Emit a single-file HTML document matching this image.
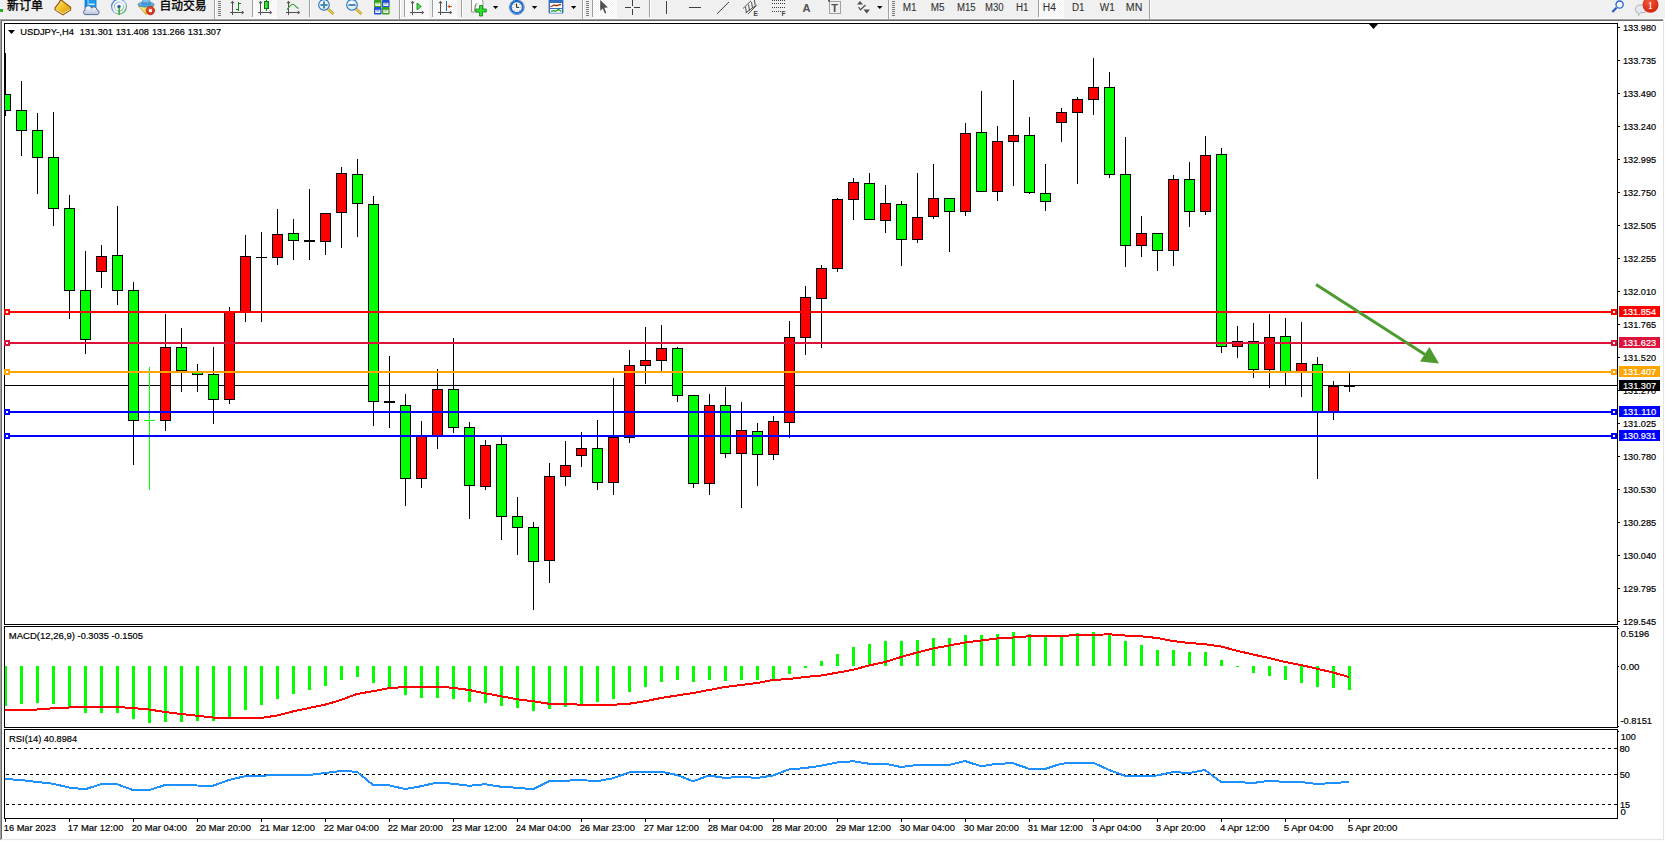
<!DOCTYPE html><html><head><meta charset="utf-8"><title>USDJPY-,H4</title><style>
html,body{margin:0;padding:0;background:#f0f0f0;width:1665px;height:841px;overflow:hidden}
svg{display:block}
.tx text{font-family:"Liberation Sans", "Noto Sans CJK SC", sans-serif;font-size:9.8px}
.tb{font-family:"Liberation Sans", "Noto Sans CJK SC", sans-serif;font-size:10px;fill:#1e1e1e}
.cj{font-family:"Liberation Sans","Noto Sans CJK SC","WenQuanYi Zen Hei",sans-serif;font-size:12px;fill:#000}
.w{fill:#fff}
</style></head><body>
<svg width="1665" height="841" viewBox="0 0 1665 841">
<rect x="0" y="0" width="1665" height="841" fill="#f0f0f0"/>
<g shape-rendering="crispEdges">
<rect x="0" y="18" width="1665" height="1" fill="#f8f8f8"/>
<rect x="0" y="19" width="1664" height="1" fill="#a0a0a0"/>
<rect x="0" y="19" width="1" height="821" fill="#a0a0a0"/>
<rect x="1" y="20" width="1662" height="1" fill="#696969"/>
<rect x="1" y="20" width="1" height="819" fill="#696969"/>
<rect x="2" y="21" width="1661" height="818" fill="#fff"/>
<rect x="1663" y="19" width="1" height="821" fill="#e3e3e3"/>
<rect x="1" y="839" width="1663" height="1" fill="#e3e3e3"/>
<rect x="1664" y="18" width="1" height="823" fill="#fdfdfd"/>
<rect x="0" y="840" width="1665" height="1" fill="#fdfdfd"/>
</g>
<g shape-rendering="crispEdges" fill="none" stroke="#000" stroke-width="1">
<rect x="4.5" y="23.5" width="1613" height="601"/>
<rect x="4.5" y="626.5" width="1613" height="101"/>
<rect x="4.5" y="729.5" width="1613" height="89"/>
</g>
<defs><clipPath id="cm"><rect x="5" y="24" width="1612" height="600"/></clipPath><clipPath id="cd"><rect x="5" y="627" width="1612" height="100"/></clipPath><clipPath id="cr"><rect x="5" y="730" width="1612" height="88"/></clipPath></defs>
<rect x="5" y="385" width="1612" height="1" fill="#000" shape-rendering="crispEdges"/>
<g shape-rendering="crispEdges" clip-path="url(#cm)">
<rect x="5" y="53" width="1" height="63" fill="#000"/>
<rect x="0" y="94" width="11" height="17" fill="#000"/>
<rect x="1" y="95" width="9" height="15" fill="#00ff00"/>
<rect x="21" y="81" width="1" height="75" fill="#000"/>
<rect x="16" y="110" width="11" height="21" fill="#000"/>
<rect x="17" y="111" width="9" height="19" fill="#00ff00"/>
<rect x="37" y="113" width="1" height="81" fill="#000"/>
<rect x="32" y="130" width="11" height="28" fill="#000"/>
<rect x="33" y="131" width="9" height="26" fill="#00ff00"/>
<rect x="53" y="112" width="1" height="114" fill="#000"/>
<rect x="48" y="157" width="11" height="52" fill="#000"/>
<rect x="49" y="158" width="9" height="50" fill="#00ff00"/>
<rect x="69" y="195" width="1" height="124" fill="#000"/>
<rect x="64" y="208" width="11" height="83" fill="#000"/>
<rect x="65" y="209" width="9" height="81" fill="#00ff00"/>
<rect x="85" y="251" width="1" height="103" fill="#000"/>
<rect x="80" y="290" width="11" height="50" fill="#000"/>
<rect x="81" y="291" width="9" height="48" fill="#00ff00"/>
<rect x="101" y="245" width="1" height="43" fill="#000"/>
<rect x="96" y="256" width="11" height="16" fill="#000"/>
<rect x="97" y="257" width="9" height="14" fill="#ff0000"/>
<rect x="117" y="206" width="1" height="99" fill="#000"/>
<rect x="112" y="255" width="11" height="36" fill="#000"/>
<rect x="113" y="256" width="9" height="34" fill="#00ff00"/>
<rect x="133" y="282" width="1" height="183" fill="#000"/>
<rect x="128" y="290" width="11" height="131" fill="#000"/>
<rect x="129" y="291" width="9" height="129" fill="#00ff00"/>
<rect x="149" y="367" width="1" height="123" fill="#00ff00"/>
<rect x="144" y="420" width="11" height="1" fill="#00ff00"/>
<rect x="165" y="314" width="1" height="117" fill="#000"/>
<rect x="160" y="347" width="11" height="74" fill="#000"/>
<rect x="161" y="348" width="9" height="72" fill="#ff0000"/>
<rect x="181" y="328" width="1" height="64" fill="#000"/>
<rect x="176" y="347" width="11" height="24" fill="#000"/>
<rect x="177" y="348" width="9" height="22" fill="#00ff00"/>
<rect x="197" y="364" width="1" height="28" fill="#000"/>
<rect x="192" y="372" width="11" height="3" fill="#000"/>
<rect x="193" y="373" width="9" height="1" fill="#00ff00"/>
<rect x="213" y="347" width="1" height="77" fill="#000"/>
<rect x="208" y="374" width="11" height="26" fill="#000"/>
<rect x="209" y="375" width="9" height="24" fill="#00ff00"/>
<rect x="229" y="307" width="1" height="97" fill="#000"/>
<rect x="224" y="312" width="11" height="88" fill="#000"/>
<rect x="225" y="313" width="9" height="86" fill="#ff0000"/>
<rect x="245" y="235" width="1" height="87" fill="#000"/>
<rect x="240" y="256" width="11" height="56" fill="#000"/>
<rect x="241" y="257" width="9" height="54" fill="#ff0000"/>
<rect x="261" y="232" width="1" height="90" fill="#000"/>
<rect x="256" y="257" width="11" height="1" fill="#000"/>
<rect x="277" y="209" width="1" height="56" fill="#000"/>
<rect x="272" y="234" width="11" height="24" fill="#000"/>
<rect x="273" y="235" width="9" height="22" fill="#ff0000"/>
<rect x="293" y="219" width="1" height="41" fill="#000"/>
<rect x="288" y="233" width="11" height="8" fill="#000"/>
<rect x="289" y="234" width="9" height="6" fill="#00ff00"/>
<rect x="309" y="189" width="1" height="71" fill="#000"/>
<rect x="304" y="240" width="11" height="2" fill="#000"/>
<rect x="325" y="213" width="1" height="42" fill="#000"/>
<rect x="320" y="213" width="11" height="29" fill="#000"/>
<rect x="321" y="214" width="9" height="27" fill="#ff0000"/>
<rect x="341" y="167" width="1" height="81" fill="#000"/>
<rect x="336" y="173" width="11" height="40" fill="#000"/>
<rect x="337" y="174" width="9" height="38" fill="#ff0000"/>
<rect x="357" y="159" width="1" height="78" fill="#000"/>
<rect x="352" y="174" width="11" height="30" fill="#000"/>
<rect x="353" y="175" width="9" height="28" fill="#00ff00"/>
<rect x="373" y="196" width="1" height="230" fill="#000"/>
<rect x="368" y="204" width="11" height="198" fill="#000"/>
<rect x="369" y="205" width="9" height="196" fill="#00ff00"/>
<rect x="389" y="356" width="1" height="72" fill="#000"/>
<rect x="384" y="401" width="11" height="2" fill="#000"/>
<rect x="405" y="394" width="1" height="112" fill="#000"/>
<rect x="400" y="405" width="11" height="74" fill="#000"/>
<rect x="401" y="406" width="9" height="72" fill="#00ff00"/>
<rect x="421" y="421" width="1" height="67" fill="#000"/>
<rect x="416" y="436" width="11" height="43" fill="#000"/>
<rect x="417" y="437" width="9" height="41" fill="#ff0000"/>
<rect x="437" y="369" width="1" height="80" fill="#000"/>
<rect x="432" y="389" width="11" height="47" fill="#000"/>
<rect x="433" y="390" width="9" height="45" fill="#ff0000"/>
<rect x="453" y="338" width="1" height="95" fill="#000"/>
<rect x="448" y="389" width="11" height="39" fill="#000"/>
<rect x="449" y="390" width="9" height="37" fill="#00ff00"/>
<rect x="469" y="422" width="1" height="97" fill="#000"/>
<rect x="464" y="427" width="11" height="59" fill="#000"/>
<rect x="465" y="428" width="9" height="57" fill="#00ff00"/>
<rect x="485" y="440" width="1" height="50" fill="#000"/>
<rect x="480" y="445" width="11" height="42" fill="#000"/>
<rect x="481" y="446" width="9" height="40" fill="#ff0000"/>
<rect x="501" y="437" width="1" height="103" fill="#000"/>
<rect x="496" y="444" width="11" height="73" fill="#000"/>
<rect x="497" y="445" width="9" height="71" fill="#00ff00"/>
<rect x="517" y="497" width="1" height="58" fill="#000"/>
<rect x="512" y="516" width="11" height="12" fill="#000"/>
<rect x="513" y="517" width="9" height="10" fill="#00ff00"/>
<rect x="533" y="522" width="1" height="88" fill="#000"/>
<rect x="528" y="527" width="11" height="35" fill="#000"/>
<rect x="529" y="528" width="9" height="33" fill="#00ff00"/>
<rect x="549" y="463" width="1" height="120" fill="#000"/>
<rect x="544" y="476" width="11" height="85" fill="#000"/>
<rect x="545" y="477" width="9" height="83" fill="#ff0000"/>
<rect x="565" y="441" width="1" height="45" fill="#000"/>
<rect x="560" y="465" width="11" height="12" fill="#000"/>
<rect x="561" y="466" width="9" height="10" fill="#ff0000"/>
<rect x="581" y="432" width="1" height="35" fill="#000"/>
<rect x="576" y="448" width="11" height="8" fill="#000"/>
<rect x="577" y="449" width="9" height="6" fill="#ff0000"/>
<rect x="597" y="420" width="1" height="70" fill="#000"/>
<rect x="592" y="448" width="11" height="35" fill="#000"/>
<rect x="593" y="449" width="9" height="33" fill="#00ff00"/>
<rect x="613" y="378" width="1" height="117" fill="#000"/>
<rect x="608" y="437" width="11" height="46" fill="#000"/>
<rect x="609" y="438" width="9" height="44" fill="#ff0000"/>
<rect x="629" y="350" width="1" height="93" fill="#000"/>
<rect x="624" y="365" width="11" height="73" fill="#000"/>
<rect x="625" y="366" width="9" height="71" fill="#ff0000"/>
<rect x="645" y="327" width="1" height="57" fill="#000"/>
<rect x="640" y="360" width="11" height="6" fill="#000"/>
<rect x="641" y="361" width="9" height="4" fill="#ff0000"/>
<rect x="661" y="325" width="1" height="46" fill="#000"/>
<rect x="656" y="348" width="11" height="13" fill="#000"/>
<rect x="657" y="349" width="9" height="11" fill="#ff0000"/>
<rect x="677" y="347" width="1" height="55" fill="#000"/>
<rect x="672" y="348" width="11" height="48" fill="#000"/>
<rect x="673" y="349" width="9" height="46" fill="#00ff00"/>
<rect x="693" y="395" width="1" height="93" fill="#000"/>
<rect x="688" y="395" width="11" height="89" fill="#000"/>
<rect x="689" y="396" width="9" height="87" fill="#00ff00"/>
<rect x="709" y="394" width="1" height="101" fill="#000"/>
<rect x="704" y="405" width="11" height="79" fill="#000"/>
<rect x="705" y="406" width="9" height="77" fill="#ff0000"/>
<rect x="725" y="387" width="1" height="71" fill="#000"/>
<rect x="720" y="405" width="11" height="49" fill="#000"/>
<rect x="721" y="406" width="9" height="47" fill="#00ff00"/>
<rect x="741" y="402" width="1" height="106" fill="#000"/>
<rect x="736" y="430" width="11" height="24" fill="#000"/>
<rect x="737" y="431" width="9" height="22" fill="#ff0000"/>
<rect x="757" y="423" width="1" height="63" fill="#000"/>
<rect x="752" y="431" width="11" height="24" fill="#000"/>
<rect x="753" y="432" width="9" height="22" fill="#00ff00"/>
<rect x="773" y="416" width="1" height="44" fill="#000"/>
<rect x="768" y="421" width="11" height="34" fill="#000"/>
<rect x="769" y="422" width="9" height="32" fill="#ff0000"/>
<rect x="789" y="321" width="1" height="117" fill="#000"/>
<rect x="784" y="337" width="11" height="86" fill="#000"/>
<rect x="785" y="338" width="9" height="84" fill="#ff0000"/>
<rect x="805" y="286" width="1" height="69" fill="#000"/>
<rect x="800" y="297" width="11" height="41" fill="#000"/>
<rect x="801" y="298" width="9" height="39" fill="#ff0000"/>
<rect x="821" y="265" width="1" height="83" fill="#000"/>
<rect x="816" y="268" width="11" height="31" fill="#000"/>
<rect x="817" y="269" width="9" height="29" fill="#ff0000"/>
<rect x="837" y="198" width="1" height="74" fill="#000"/>
<rect x="832" y="199" width="11" height="70" fill="#000"/>
<rect x="833" y="200" width="9" height="68" fill="#ff0000"/>
<rect x="853" y="178" width="1" height="42" fill="#000"/>
<rect x="848" y="182" width="11" height="18" fill="#000"/>
<rect x="849" y="183" width="9" height="16" fill="#ff0000"/>
<rect x="869" y="173" width="1" height="47" fill="#000"/>
<rect x="864" y="183" width="11" height="37" fill="#000"/>
<rect x="865" y="184" width="9" height="35" fill="#00ff00"/>
<rect x="885" y="185" width="1" height="48" fill="#000"/>
<rect x="880" y="203" width="11" height="18" fill="#000"/>
<rect x="881" y="204" width="9" height="16" fill="#ff0000"/>
<rect x="901" y="201" width="1" height="65" fill="#000"/>
<rect x="896" y="204" width="11" height="36" fill="#000"/>
<rect x="897" y="205" width="9" height="34" fill="#00ff00"/>
<rect x="917" y="173" width="1" height="70" fill="#000"/>
<rect x="912" y="217" width="11" height="23" fill="#000"/>
<rect x="913" y="218" width="9" height="21" fill="#ff0000"/>
<rect x="933" y="164" width="1" height="55" fill="#000"/>
<rect x="928" y="198" width="11" height="19" fill="#000"/>
<rect x="929" y="199" width="9" height="17" fill="#ff0000"/>
<rect x="949" y="199" width="1" height="53" fill="#000"/>
<rect x="944" y="198" width="11" height="14" fill="#000"/>
<rect x="945" y="199" width="9" height="12" fill="#00ff00"/>
<rect x="965" y="123" width="1" height="93" fill="#000"/>
<rect x="960" y="133" width="11" height="79" fill="#000"/>
<rect x="961" y="134" width="9" height="77" fill="#ff0000"/>
<rect x="981" y="91" width="1" height="101" fill="#000"/>
<rect x="976" y="132" width="11" height="60" fill="#000"/>
<rect x="977" y="133" width="9" height="58" fill="#00ff00"/>
<rect x="997" y="126" width="1" height="75" fill="#000"/>
<rect x="992" y="141" width="11" height="51" fill="#000"/>
<rect x="993" y="142" width="9" height="49" fill="#ff0000"/>
<rect x="1013" y="80" width="1" height="106" fill="#000"/>
<rect x="1008" y="135" width="11" height="7" fill="#000"/>
<rect x="1009" y="136" width="9" height="5" fill="#ff0000"/>
<rect x="1029" y="117" width="1" height="77" fill="#000"/>
<rect x="1024" y="135" width="11" height="58" fill="#000"/>
<rect x="1025" y="136" width="9" height="56" fill="#00ff00"/>
<rect x="1045" y="164" width="1" height="47" fill="#000"/>
<rect x="1040" y="193" width="11" height="9" fill="#000"/>
<rect x="1041" y="194" width="9" height="7" fill="#00ff00"/>
<rect x="1061" y="108" width="1" height="34" fill="#000"/>
<rect x="1056" y="112" width="11" height="11" fill="#000"/>
<rect x="1057" y="113" width="9" height="9" fill="#ff0000"/>
<rect x="1077" y="97" width="1" height="87" fill="#000"/>
<rect x="1072" y="99" width="11" height="14" fill="#000"/>
<rect x="1073" y="100" width="9" height="12" fill="#ff0000"/>
<rect x="1093" y="58" width="1" height="57" fill="#000"/>
<rect x="1088" y="87" width="11" height="13" fill="#000"/>
<rect x="1089" y="88" width="9" height="11" fill="#ff0000"/>
<rect x="1109" y="72" width="1" height="106" fill="#000"/>
<rect x="1104" y="87" width="11" height="88" fill="#000"/>
<rect x="1105" y="88" width="9" height="86" fill="#00ff00"/>
<rect x="1125" y="137" width="1" height="130" fill="#000"/>
<rect x="1120" y="174" width="11" height="72" fill="#000"/>
<rect x="1121" y="175" width="9" height="70" fill="#00ff00"/>
<rect x="1141" y="216" width="1" height="41" fill="#000"/>
<rect x="1136" y="233" width="11" height="13" fill="#000"/>
<rect x="1137" y="234" width="9" height="11" fill="#ff0000"/>
<rect x="1157" y="233" width="1" height="38" fill="#000"/>
<rect x="1152" y="233" width="11" height="18" fill="#000"/>
<rect x="1153" y="234" width="9" height="16" fill="#00ff00"/>
<rect x="1173" y="175" width="1" height="91" fill="#000"/>
<rect x="1168" y="179" width="11" height="72" fill="#000"/>
<rect x="1169" y="180" width="9" height="70" fill="#ff0000"/>
<rect x="1189" y="162" width="1" height="65" fill="#000"/>
<rect x="1184" y="179" width="11" height="33" fill="#000"/>
<rect x="1185" y="180" width="9" height="31" fill="#00ff00"/>
<rect x="1205" y="136" width="1" height="79" fill="#000"/>
<rect x="1200" y="155" width="11" height="57" fill="#000"/>
<rect x="1201" y="156" width="9" height="55" fill="#ff0000"/>
<rect x="1221" y="148" width="1" height="205" fill="#000"/>
<rect x="1216" y="154" width="11" height="193" fill="#000"/>
<rect x="1217" y="155" width="9" height="191" fill="#00ff00"/>
<rect x="1237" y="326" width="1" height="32" fill="#000"/>
<rect x="1232" y="341" width="11" height="6" fill="#000"/>
<rect x="1233" y="342" width="9" height="4" fill="#ff0000"/>
<rect x="1253" y="323" width="1" height="55" fill="#000"/>
<rect x="1248" y="341" width="11" height="29" fill="#000"/>
<rect x="1249" y="342" width="9" height="27" fill="#00ff00"/>
<rect x="1269" y="314" width="1" height="74" fill="#000"/>
<rect x="1264" y="337" width="11" height="33" fill="#000"/>
<rect x="1265" y="338" width="9" height="31" fill="#ff0000"/>
<rect x="1285" y="318" width="1" height="68" fill="#000"/>
<rect x="1280" y="336" width="11" height="36" fill="#000"/>
<rect x="1281" y="337" width="9" height="34" fill="#00ff00"/>
<rect x="1301" y="322" width="1" height="75" fill="#000"/>
<rect x="1296" y="363" width="11" height="9" fill="#000"/>
<rect x="1297" y="364" width="9" height="7" fill="#ff0000"/>
<rect x="1317" y="357" width="1" height="122" fill="#000"/>
<rect x="1312" y="364" width="11" height="48" fill="#000"/>
<rect x="1313" y="365" width="9" height="46" fill="#00ff00"/>
<rect x="1333" y="381" width="1" height="39" fill="#000"/>
<rect x="1328" y="386" width="11" height="26" fill="#000"/>
<rect x="1329" y="387" width="9" height="24" fill="#ff0000"/>
<rect x="1349" y="373" width="1" height="19" fill="#000"/>
<rect x="1344" y="386" width="11" height="1" fill="#000"/>
</g>
<g shape-rendering="crispEdges" clip-path="url(#cm)">
<rect x="5" y="311" width="1612" height="2" fill="#ff0000"/>
<rect x="5" y="342" width="1612" height="2" fill="#dc143c"/>
<rect x="5" y="371" width="1612" height="2" fill="#ffa500"/>
<rect x="5" y="411" width="1612" height="2" fill="#0000ff"/>
<rect x="5" y="435" width="1612" height="2" fill="#0000ff"/>
</g>
<g shape-rendering="crispEdges">
<rect x="4" y="309" width="6" height="6" fill="#ff0000"/>
<rect x="6" y="311" width="2" height="2" fill="#fff"/>
<rect x="1611" y="309" width="6" height="6" fill="#ff0000"/>
<rect x="1613" y="311" width="2" height="2" fill="#fff"/>
<rect x="4" y="340" width="6" height="6" fill="#dc143c"/>
<rect x="6" y="342" width="2" height="2" fill="#fff"/>
<rect x="1611" y="340" width="6" height="6" fill="#dc143c"/>
<rect x="1613" y="342" width="2" height="2" fill="#fff"/>
<rect x="4" y="369" width="6" height="6" fill="#ffa500"/>
<rect x="6" y="371" width="2" height="2" fill="#fff"/>
<rect x="1611" y="369" width="6" height="6" fill="#ffa500"/>
<rect x="1613" y="371" width="2" height="2" fill="#fff"/>
<rect x="4" y="409" width="6" height="6" fill="#0000ff"/>
<rect x="6" y="411" width="2" height="2" fill="#fff"/>
<rect x="1611" y="409" width="6" height="6" fill="#0000ff"/>
<rect x="1613" y="411" width="2" height="2" fill="#fff"/>
<rect x="4" y="433" width="6" height="6" fill="#0000ff"/>
<rect x="6" y="435" width="2" height="2" fill="#fff"/>
<rect x="1611" y="433" width="6" height="6" fill="#0000ff"/>
<rect x="1613" y="435" width="2" height="2" fill="#fff"/>
</g>
<g>
<line x1="1316" y1="284.5" x2="1425" y2="354.5" stroke="#4d9b2f" stroke-width="3"/>
<polygon points="1429.4,346.9 1420,361.4 1439,363.6" fill="#4d9b2f"/>
</g>
<g shape-rendering="crispEdges">
<rect x="1618" y="27" width="2" height="1" fill="#000"/>
<rect x="1618" y="60" width="2" height="1" fill="#000"/>
<rect x="1618" y="93" width="2" height="1" fill="#000"/>
<rect x="1618" y="126" width="2" height="1" fill="#000"/>
<rect x="1618" y="159" width="2" height="1" fill="#000"/>
<rect x="1618" y="192" width="2" height="1" fill="#000"/>
<rect x="1618" y="225" width="2" height="1" fill="#000"/>
<rect x="1618" y="258" width="2" height="1" fill="#000"/>
<rect x="1618" y="291" width="2" height="1" fill="#000"/>
<rect x="1618" y="324" width="2" height="1" fill="#000"/>
<rect x="1618" y="357" width="2" height="1" fill="#000"/>
<rect x="1618" y="390" width="2" height="1" fill="#000"/>
<rect x="1618" y="423" width="2" height="1" fill="#000"/>
<rect x="1618" y="456" width="2" height="1" fill="#000"/>
<rect x="1618" y="489" width="2" height="1" fill="#000"/>
<rect x="1618" y="522" width="2" height="1" fill="#000"/>
<rect x="1618" y="555" width="2" height="1" fill="#000"/>
<rect x="1618" y="588" width="2" height="1" fill="#000"/>
<rect x="1618" y="621" width="2" height="1" fill="#000"/>
</g>
<g class="tx">
<text x="1623.00" y="31.00" textLength="33.16" lengthAdjust="spacingAndGlyphs" fill="#000" stroke="#000" stroke-width="0.2">133.980</text>
<text x="1623.00" y="64.00" textLength="33.18" lengthAdjust="spacingAndGlyphs" fill="#000" stroke="#000" stroke-width="0.2">133.735</text>
<text x="1623.00" y="97.00" textLength="33.16" lengthAdjust="spacingAndGlyphs" fill="#000" stroke="#000" stroke-width="0.2">133.490</text>
<text x="1623.00" y="130.00" textLength="33.16" lengthAdjust="spacingAndGlyphs" fill="#000" stroke="#000" stroke-width="0.2">133.240</text>
<text x="1623.00" y="163.00" textLength="33.18" lengthAdjust="spacingAndGlyphs" fill="#000" stroke="#000" stroke-width="0.2">132.995</text>
<text x="1623.00" y="196.00" textLength="33.16" lengthAdjust="spacingAndGlyphs" fill="#000" stroke="#000" stroke-width="0.2">132.750</text>
<text x="1623.00" y="229.00" textLength="33.18" lengthAdjust="spacingAndGlyphs" fill="#000" stroke="#000" stroke-width="0.2">132.505</text>
<text x="1623.00" y="262.00" textLength="33.18" lengthAdjust="spacingAndGlyphs" fill="#000" stroke="#000" stroke-width="0.2">132.255</text>
<text x="1623.00" y="295.00" textLength="33.16" lengthAdjust="spacingAndGlyphs" fill="#000" stroke="#000" stroke-width="0.2">132.010</text>
<text x="1623.00" y="328.00" textLength="33.18" lengthAdjust="spacingAndGlyphs" fill="#000" stroke="#000" stroke-width="0.2">131.765</text>
<text x="1623.00" y="361.00" textLength="33.16" lengthAdjust="spacingAndGlyphs" fill="#000" stroke="#000" stroke-width="0.2">131.520</text>
<text x="1623.00" y="394.00" textLength="33.16" lengthAdjust="spacingAndGlyphs" fill="#000" stroke="#000" stroke-width="0.2">131.270</text>
<text x="1623.00" y="427.00" textLength="33.18" lengthAdjust="spacingAndGlyphs" fill="#000" stroke="#000" stroke-width="0.2">131.025</text>
<text x="1623.00" y="460.00" textLength="33.16" lengthAdjust="spacingAndGlyphs" fill="#000" stroke="#000" stroke-width="0.2">130.780</text>
<text x="1623.00" y="493.00" textLength="33.16" lengthAdjust="spacingAndGlyphs" fill="#000" stroke="#000" stroke-width="0.2">130.530</text>
<text x="1623.00" y="526.00" textLength="33.18" lengthAdjust="spacingAndGlyphs" fill="#000" stroke="#000" stroke-width="0.2">130.285</text>
<text x="1623.00" y="559.00" textLength="33.16" lengthAdjust="spacingAndGlyphs" fill="#000" stroke="#000" stroke-width="0.2">130.040</text>
<text x="1623.00" y="592.00" textLength="33.18" lengthAdjust="spacingAndGlyphs" fill="#000" stroke="#000" stroke-width="0.2">129.795</text>
<text x="1623.00" y="625.00" textLength="33.18" lengthAdjust="spacingAndGlyphs" fill="#000" stroke="#000" stroke-width="0.2">129.545</text>
</g>
<g shape-rendering="crispEdges">
<rect x="1619" y="306" width="41" height="11" fill="#ff0000"/>
<rect x="1619" y="337" width="41" height="11" fill="#dc143c"/>
<rect x="1619" y="366" width="41" height="11" fill="#ffa500"/>
<rect x="1619" y="406" width="41" height="11" fill="#0000ff"/>
<rect x="1619" y="430" width="41" height="11" fill="#0000ff"/>
<rect x="1619" y="380" width="41" height="11" fill="#000"/>
</g>
<g class="tx">
<text x="1622.90" y="315.00" textLength="33.17" lengthAdjust="spacingAndGlyphs" fill="#fff" stroke="#fff" stroke-width="0.2">131.854</text>
<text x="1622.90" y="346.00" textLength="33.31" lengthAdjust="spacingAndGlyphs" fill="#fff" stroke="#fff" stroke-width="0.2">131.623</text>
<text x="1622.90" y="375.00" textLength="33.37" lengthAdjust="spacingAndGlyphs" fill="#fff" stroke="#fff" stroke-width="0.2">131.407</text>
<text x="1622.90" y="415.00" textLength="33.26" lengthAdjust="spacingAndGlyphs" fill="#fff" stroke="#fff" stroke-width="0.2">131.110</text>
<text x="1622.90" y="439.00" textLength="33.35" lengthAdjust="spacingAndGlyphs" fill="#fff" stroke="#fff" stroke-width="0.2">130.931</text>
<text x="1622.90" y="389.00" textLength="33.37" lengthAdjust="spacingAndGlyphs" fill="#fff" stroke="#fff" stroke-width="0.2">131.307</text>
</g>
<g shape-rendering="crispEdges" clip-path="url(#cd)" fill="#00ff00">
<rect x="4" y="666" width="3" height="40"/>
<rect x="20" y="666" width="3" height="38"/>
<rect x="36" y="666" width="3" height="37"/>
<rect x="52" y="666" width="3" height="38"/>
<rect x="68" y="666" width="3" height="42"/>
<rect x="84" y="666" width="3" height="47"/>
<rect x="100" y="666" width="3" height="47"/>
<rect x="116" y="666" width="3" height="47"/>
<rect x="132" y="666" width="3" height="53"/>
<rect x="148" y="666" width="3" height="57"/>
<rect x="164" y="666" width="3" height="56"/>
<rect x="180" y="666" width="3" height="56"/>
<rect x="196" y="666" width="3" height="55"/>
<rect x="212" y="666" width="3" height="55"/>
<rect x="228" y="666" width="3" height="51"/>
<rect x="244" y="666" width="3" height="44"/>
<rect x="260" y="666" width="3" height="39"/>
<rect x="276" y="666" width="3" height="33"/>
<rect x="292" y="666" width="3" height="28"/>
<rect x="308" y="666" width="3" height="24"/>
<rect x="324" y="666" width="3" height="20"/>
<rect x="340" y="666" width="3" height="14"/>
<rect x="356" y="666" width="3" height="11"/>
<rect x="372" y="666" width="3" height="17"/>
<rect x="388" y="666" width="3" height="22"/>
<rect x="404" y="666" width="3" height="29"/>
<rect x="420" y="666" width="3" height="32"/>
<rect x="436" y="666" width="3" height="32"/>
<rect x="452" y="666" width="3" height="33"/>
<rect x="468" y="666" width="3" height="36"/>
<rect x="484" y="666" width="3" height="37"/>
<rect x="500" y="666" width="3" height="40"/>
<rect x="516" y="666" width="3" height="42"/>
<rect x="532" y="666" width="3" height="45"/>
<rect x="548" y="666" width="3" height="43"/>
<rect x="564" y="666" width="3" height="41"/>
<rect x="580" y="666" width="3" height="38"/>
<rect x="596" y="666" width="3" height="36"/>
<rect x="612" y="666" width="3" height="33"/>
<rect x="628" y="666" width="3" height="26"/>
<rect x="644" y="666" width="3" height="21"/>
<rect x="660" y="666" width="3" height="16"/>
<rect x="676" y="666" width="3" height="14"/>
<rect x="692" y="666" width="3" height="16"/>
<rect x="708" y="666" width="3" height="14"/>
<rect x="724" y="666" width="3" height="15"/>
<rect x="740" y="666" width="3" height="14"/>
<rect x="756" y="666" width="3" height="14"/>
<rect x="772" y="666" width="3" height="13"/>
<rect x="788" y="666" width="3" height="8"/>
<rect x="804" y="666" width="3" height="2"/>
<rect x="820" y="661" width="3" height="5"/>
<rect x="836" y="654" width="3" height="12"/>
<rect x="852" y="647" width="3" height="19"/>
<rect x="868" y="644" width="3" height="22"/>
<rect x="884" y="641" width="3" height="25"/>
<rect x="900" y="641" width="3" height="25"/>
<rect x="916" y="640" width="3" height="26"/>
<rect x="932" y="638" width="3" height="28"/>
<rect x="948" y="638" width="3" height="28"/>
<rect x="964" y="635" width="3" height="31"/>
<rect x="980" y="635" width="3" height="31"/>
<rect x="996" y="634" width="3" height="32"/>
<rect x="1012" y="632" width="3" height="34"/>
<rect x="1028" y="634" width="3" height="32"/>
<rect x="1044" y="636" width="3" height="30"/>
<rect x="1060" y="635" width="3" height="31"/>
<rect x="1076" y="633" width="3" height="33"/>
<rect x="1092" y="632" width="3" height="34"/>
<rect x="1108" y="634" width="3" height="32"/>
<rect x="1124" y="641" width="3" height="25"/>
<rect x="1140" y="645" width="3" height="21"/>
<rect x="1156" y="650" width="3" height="16"/>
<rect x="1172" y="650" width="3" height="16"/>
<rect x="1188" y="652" width="3" height="14"/>
<rect x="1204" y="652" width="3" height="14"/>
<rect x="1220" y="660" width="3" height="6"/>
<rect x="1236" y="666" width="3" height="1"/>
<rect x="1252" y="666" width="3" height="7"/>
<rect x="1268" y="666" width="3" height="10"/>
<rect x="1284" y="666" width="3" height="14"/>
<rect x="1300" y="666" width="3" height="17"/>
<rect x="1316" y="666" width="3" height="21"/>
<rect x="1332" y="666" width="3" height="22"/>
<rect x="1348" y="666" width="3" height="24"/>
</g>
<polyline clip-path="url(#cd)" points="5,710.00 21,710.00 37,709.50 53,708.25 69,707.50 85,707.00 101,707.00 117,707.00 133,708.00 149,709.50 165,712.00 181,714.00 197,715.75 213,717.50 229,718.00 245,718.00 261,718.00 277,715.50 293,711.40 309,708.00 325,704.70 341,700.00 357,694.00 373,691.20 389,688.20 405,687.00 421,686.75 437,686.75 453,687.75 469,690.00 485,693.25 501,696.25 517,699.25 533,701.25 549,703.75 565,703.75 581,704.75 597,704.75 613,704.75 629,703.75 645,701.25 661,698.00 677,695.50 693,693.00 709,690.00 725,687.00 741,685.00 757,683.00 773,680.00 789,679.00 805,677.00 821,675.50 837,672.75 853,669.75 869,665.50 885,662.00 901,657.00 917,652.50 933,648.50 949,645.50 965,642.50 981,640.50 997,638.50 1013,637.50 1029,636.25 1045,636.25 1061,636.00 1077,635.00 1093,635.00 1109,634.25 1125,635.50 1141,636.25 1157,638.00 1173,641.00 1189,643.00 1205,644.20 1221,646.50 1237,650.80 1253,654.50 1269,658.00 1285,662.00 1301,665.00 1317,668.75 1333,672.50 1349,677.00" fill="none" stroke="#ff0000" stroke-width="2" stroke-linejoin="round" shape-rendering="crispEdges"/>
<g shape-rendering="crispEdges" stroke="#000" stroke-width="1" stroke-dasharray="3,3">
<line x1="6" y1="748.5" x2="1617" y2="748.5"/>
<line x1="6" y1="774.5" x2="1617" y2="774.5"/>
<line x1="6" y1="804.5" x2="1617" y2="804.5"/>
</g>
<polyline clip-path="url(#cr)" points="5,779.00 21,780.00 37,782.00 53,783.75 69,787.50 85,789.25 101,784.25 117,784.25 133,790.00 149,790.25 165,785.00 181,785.00 197,785.50 213,785.75 229,780.00 245,776.25 261,775.75 277,775.00 293,775.00 309,775.00 325,773.00 341,771.00 357,771.75 373,785.00 389,785.25 405,789.00 421,786.25 437,782.50 453,783.75 469,785.75 485,784.25 501,786.75 517,787.75 533,789.25 549,781.25 565,780.75 581,780.00 597,781.25 613,778.25 629,772.50 645,771.75 661,771.75 677,775.00 693,781.25 709,775.50 725,778.00 741,776.75 757,778.00 773,775.50 789,769.50 805,768.00 821,765.75 837,762.50 853,761.25 869,763.75 885,763.75 901,767.00 917,765.00 933,765.00 949,765.00 965,761.00 981,766.25 997,763.75 1013,763.25 1029,768.75 1045,769.00 1061,763.75 1077,762.50 1093,762.50 1109,770.00 1125,775.75 1141,775.75 1157,775.50 1173,772.00 1189,773.00 1205,770.00 1221,782.00 1237,782.00 1253,783.00 1269,780.75 1285,782.00 1301,782.00 1317,784.00 1333,783.00 1349,782.00" fill="none" stroke="#1e90ff" stroke-width="2" stroke-linejoin="round" shape-rendering="crispEdges"/>
<g shape-rendering="crispEdges" fill="#000">
<rect x="1618" y="628" width="1" height="1"/>
<rect x="1618" y="666" width="1" height="1"/>
<rect x="1618" y="726" width="1" height="1"/>
<rect x="1618" y="731" width="1" height="1"/>
</g>
<g class="tx">
<text x="1620.63" y="637.00" textLength="28.68" lengthAdjust="spacingAndGlyphs" fill="#000" stroke="#000" stroke-width="0.2">0.5196</text>
<text x="1620.62" y="670.00" textLength="18.75" lengthAdjust="spacingAndGlyphs" fill="#000" stroke="#000" stroke-width="0.2">0.00</text>
<text x="1620.49" y="724.00" textLength="31.47" lengthAdjust="spacingAndGlyphs" fill="#000" stroke="#000" stroke-width="0.2">-0.8151</text>
<text x="1620.71" y="740.00" textLength="15.15" lengthAdjust="spacingAndGlyphs" fill="#000" stroke="#000" stroke-width="0.2">100</text>
<text x="1619.39" y="752.00" textLength="10.48" lengthAdjust="spacingAndGlyphs" fill="#000" stroke="#000" stroke-width="0.2">80</text>
<text x="1619.63" y="778.00" textLength="10.33" lengthAdjust="spacingAndGlyphs" fill="#000" stroke="#000" stroke-width="0.2">50</text>
<text x="1619.91" y="808.00" textLength="10.07" lengthAdjust="spacingAndGlyphs" fill="#000" stroke="#000" stroke-width="0.2">15</text>
<text x="1620.62" y="815.00" textLength="5.35" lengthAdjust="spacingAndGlyphs" fill="#000" stroke="#000" stroke-width="0.2">0</text>
<text x="20.19" y="35.00" textLength="53.68" lengthAdjust="spacingAndGlyphs" fill="#000" stroke="#000" stroke-width="0.2">USDJPY-,H4</text>
<text x="79.80" y="35.00" textLength="33.15" lengthAdjust="spacingAndGlyphs" fill="#000" stroke="#000" stroke-width="0.2">131.301</text>
<text x="115.70" y="35.00" textLength="33.20" lengthAdjust="spacingAndGlyphs" fill="#000" stroke="#000" stroke-width="0.2">131.408</text>
<text x="151.91" y="35.00" textLength="32.89" lengthAdjust="spacingAndGlyphs" fill="#000" stroke="#000" stroke-width="0.2">131.266</text>
<text x="187.80" y="35.00" textLength="33.26" lengthAdjust="spacingAndGlyphs" fill="#000" stroke="#000" stroke-width="0.2">131.307</text>
<text x="8.82" y="639.00" textLength="66.17" lengthAdjust="spacingAndGlyphs" fill="#000" stroke="#000" stroke-width="0.2">MACD(12,26,9)</text>
<text x="77.59" y="639.00" textLength="31.19" lengthAdjust="spacingAndGlyphs" fill="#000" stroke="#000" stroke-width="0.2">-0.3035</text>
<text x="111.39" y="639.00" textLength="31.61" lengthAdjust="spacingAndGlyphs" fill="#000" stroke="#000" stroke-width="0.2">-0.1505</text>
<text x="9.03" y="742.00" textLength="32.35" lengthAdjust="spacingAndGlyphs" fill="#000" stroke="#000" stroke-width="0.2">RSI(14)</text>
<text x="43.79" y="742.00" textLength="33.28" lengthAdjust="spacingAndGlyphs" fill="#000" stroke="#000" stroke-width="0.2">40.8984</text>
</g>
<polygon points="8,30 15,30 11.5,34" fill="#000"/>
<polygon points="1368.5,23.5 1378.5,23.5 1373.5,29" fill="#000"/>
<g shape-rendering="crispEdges" fill="#000">
<rect x="5" y="819" width="1" height="3"/>
<rect x="69" y="819" width="1" height="3"/>
<rect x="133" y="819" width="1" height="3"/>
<rect x="197" y="819" width="1" height="3"/>
<rect x="261" y="819" width="1" height="3"/>
<rect x="325" y="819" width="1" height="3"/>
<rect x="389" y="819" width="1" height="3"/>
<rect x="453" y="819" width="1" height="3"/>
<rect x="517" y="819" width="1" height="3"/>
<rect x="581" y="819" width="1" height="3"/>
<rect x="645" y="819" width="1" height="3"/>
<rect x="709" y="819" width="1" height="3"/>
<rect x="773" y="819" width="1" height="3"/>
<rect x="837" y="819" width="1" height="3"/>
<rect x="901" y="819" width="1" height="3"/>
<rect x="965" y="819" width="1" height="3"/>
<rect x="1029" y="819" width="1" height="3"/>
<rect x="1093" y="819" width="1" height="3"/>
<rect x="1157" y="819" width="1" height="3"/>
<rect x="1221" y="819" width="1" height="3"/>
<rect x="1285" y="819" width="1" height="3"/>
<rect x="1349" y="819" width="1" height="3"/>
</g>
<g class="tx">
<text x="3.79" y="831.00" textLength="52.01" lengthAdjust="spacingAndGlyphs" fill="#000" stroke="#000" stroke-width="0.2">16 Mar 2023</text>
<text x="67.78" y="831.00" textLength="55.69" lengthAdjust="spacingAndGlyphs" fill="#000" stroke="#000" stroke-width="0.2">17 Mar 12:00</text>
<text x="131.63" y="831.00" textLength="55.44" lengthAdjust="spacingAndGlyphs" fill="#000" stroke="#000" stroke-width="0.2">20 Mar 04:00</text>
<text x="195.63" y="831.00" textLength="55.44" lengthAdjust="spacingAndGlyphs" fill="#000" stroke="#000" stroke-width="0.2">20 Mar 20:00</text>
<text x="259.63" y="831.00" textLength="55.44" lengthAdjust="spacingAndGlyphs" fill="#000" stroke="#000" stroke-width="0.2">21 Mar 12:00</text>
<text x="323.63" y="831.00" textLength="55.44" lengthAdjust="spacingAndGlyphs" fill="#000" stroke="#000" stroke-width="0.2">22 Mar 04:00</text>
<text x="387.63" y="831.00" textLength="55.44" lengthAdjust="spacingAndGlyphs" fill="#000" stroke="#000" stroke-width="0.2">22 Mar 20:00</text>
<text x="451.63" y="831.00" textLength="55.44" lengthAdjust="spacingAndGlyphs" fill="#000" stroke="#000" stroke-width="0.2">23 Mar 12:00</text>
<text x="515.63" y="831.00" textLength="55.44" lengthAdjust="spacingAndGlyphs" fill="#000" stroke="#000" stroke-width="0.2">24 Mar 04:00</text>
<text x="579.63" y="831.00" textLength="55.44" lengthAdjust="spacingAndGlyphs" fill="#000" stroke="#000" stroke-width="0.2">26 Mar 23:00</text>
<text x="643.63" y="831.00" textLength="55.44" lengthAdjust="spacingAndGlyphs" fill="#000" stroke="#000" stroke-width="0.2">27 Mar 12:00</text>
<text x="707.63" y="831.00" textLength="55.44" lengthAdjust="spacingAndGlyphs" fill="#000" stroke="#000" stroke-width="0.2">28 Mar 04:00</text>
<text x="771.63" y="831.00" textLength="55.44" lengthAdjust="spacingAndGlyphs" fill="#000" stroke="#000" stroke-width="0.2">28 Mar 20:00</text>
<text x="835.63" y="831.00" textLength="55.44" lengthAdjust="spacingAndGlyphs" fill="#000" stroke="#000" stroke-width="0.2">29 Mar 12:00</text>
<text x="899.74" y="831.00" textLength="55.32" lengthAdjust="spacingAndGlyphs" fill="#000" stroke="#000" stroke-width="0.2">30 Mar 04:00</text>
<text x="963.74" y="831.00" textLength="55.32" lengthAdjust="spacingAndGlyphs" fill="#000" stroke="#000" stroke-width="0.2">30 Mar 20:00</text>
<text x="1027.74" y="831.00" textLength="55.32" lengthAdjust="spacingAndGlyphs" fill="#000" stroke="#000" stroke-width="0.2">31 Mar 12:00</text>
<text x="1091.73" y="831.00" textLength="49.64" lengthAdjust="spacingAndGlyphs" fill="#000" stroke="#000" stroke-width="0.2">3 Apr 04:00</text>
<text x="1155.73" y="831.00" textLength="49.64" lengthAdjust="spacingAndGlyphs" fill="#000" stroke="#000" stroke-width="0.2">3 Apr 20:00</text>
<text x="1219.88" y="831.00" textLength="49.49" lengthAdjust="spacingAndGlyphs" fill="#000" stroke="#000" stroke-width="0.2">4 Apr 12:00</text>
<text x="1283.72" y="831.00" textLength="49.66" lengthAdjust="spacingAndGlyphs" fill="#000" stroke="#000" stroke-width="0.2">5 Apr 04:00</text>
<text x="1347.72" y="831.00" textLength="49.66" lengthAdjust="spacingAndGlyphs" fill="#000" stroke="#000" stroke-width="0.2">5 Apr 20:00</text>
</g>
<defs><pattern id="dith" width="2" height="2" patternUnits="userSpaceOnUse"><rect width="2" height="2" fill="#f4f4f4"/><rect width="1" height="1" fill="#fff"/><rect x="1" y="1" width="1" height="1" fill="#fff"/></pattern><linearGradient id="gold" x1="0" y1="0" x2="1" y2="1"><stop offset="0" stop-color="#fff2a0"/><stop offset="0.5" stop-color="#f0c020"/><stop offset="1" stop-color="#d09010"/></linearGradient><linearGradient id="gcand" x1="0" y1="0" x2="1" y2="0"><stop offset="0" stop-color="#60f060"/><stop offset="1" stop-color="#10c010"/></linearGradient><radialGradient id="lens" cx="0.4" cy="0.4" r="0.7"><stop offset="0" stop-color="#ffffff"/><stop offset="1" stop-color="#c8e8f8"/></radialGradient><linearGradient id="cloud" x1="0" y1="0" x2="0" y2="1"><stop offset="0" stop-color="#ffffff"/><stop offset="1" stop-color="#b8c4d8"/></linearGradient><linearGradient id="hat" x1="0" y1="0" x2="0" y2="1"><stop offset="0" stop-color="#a8d8f8"/><stop offset="1" stop-color="#3890d0"/></linearGradient><linearGradient id="cone" x1="0" y1="0" x2="1" y2="1"><stop offset="0" stop-color="#fff8b0"/><stop offset="1" stop-color="#e8b820"/></linearGradient><radialGradient id="redb" cx="0.4" cy="0.3" r="0.8"><stop offset="0" stop-color="#f05838"/><stop offset="1" stop-color="#d02008"/></radialGradient></defs>
<g>
<rect x="0" y="9" width="3" height="3" fill="#20b020"/>
<text x="7" y="10" font-family="'Liberation Sans','Noto Sans CJK SC',sans-serif" font-size="12" fill="#000" stroke="#000" stroke-width="0.35" textLength="36" lengthAdjust="spacingAndGlyphs">新订单</text>
<polygon points="60.5,-0.5 70.6,7.2 70.6,10 63,14.8 55,9.6 55,8 59.5,2.2" fill="url(#gold)" stroke="#94560a" stroke-width="1.1"/>
<polyline points="56,9.6 63,13.7 70,9.4" fill="none" stroke="#f8e8a8" stroke-width="0.9"/>
<rect x="85" y="-1" width="11" height="9" fill="#1a9af0" stroke="#0a74d4" stroke-width="0.8"/>
<rect x="85.4" y="-1" width="2.6" height="8.6" fill="#0a84e0"/>
<line x1="88" y1="0" x2="88" y2="8" stroke="#ffffff" stroke-width="0.7"/>
<rect x="89" y="3.6" width="5.5" height="1.3" fill="#e8f4ff"/>
<path d="M85,14.6 A2.3,2.3 0 0 1 85.2,10.2 A3.3,3.3 0 0 1 91.5,8.2 A3,3 0 0 1 97,10 A2.4,2.4 0 0 1 97.6,14.6 Z" fill="url(#cloud)" stroke="#48608f" stroke-width="0.9"/>
<defs><linearGradient id="rad" x1="0" y1="0" x2="1" y2="1"><stop offset="0" stop-color="#2a5ed0"/><stop offset="0.55" stop-color="#9ab8e8"/><stop offset="1" stop-color="#30a030"/></linearGradient><linearGradient id="rad2" x1="0" y1="0" x2="1" y2="1"><stop offset="0" stop-color="#6a90e0"/><stop offset="0.5" stop-color="#d0e0f0"/><stop offset="1" stop-color="#60b860"/></linearGradient></defs>
<circle cx="119" cy="6.6" r="7.4" fill="#f4f8f4" stroke="url(#rad)" stroke-width="1.2"/>
<circle cx="119" cy="6.6" r="4.6" fill="none" stroke="url(#rad2)" stroke-width="1.1"/>
<circle cx="119" cy="6.6" r="1.7" fill="#2050c8"/>
<rect x="118.5" y="6.8" width="1.3" height="8" fill="#18a018"/>
<polygon points="138.5,6 154,5.5 146,14.6" fill="url(#cone)" stroke="#c09010" stroke-width="0.8"/>
<ellipse cx="146" cy="4.5" rx="8" ry="2.6" fill="url(#hat)" stroke="#2878b8" stroke-width="0.7"/>
<polygon points="141.5,4.2 143.2,-1 149.2,-1 150.8,4.2" fill="url(#hat)" stroke="#2a78b8" stroke-width="0.6"/>
<circle cx="150.4" cy="10.6" r="4.2" fill="url(#redb)" stroke="#a01808" stroke-width="0.6"/>
<rect x="148.9" y="9.1" width="3" height="3" fill="#ffffff"/>
<text x="159.5" y="10" font-family="'Liberation Sans','Noto Sans CJK SC',sans-serif" font-size="12" fill="#000" stroke="#000" stroke-width="0.35" textLength="47" lengthAdjust="spacingAndGlyphs">自动交易</text>
</g>
<g shape-rendering="crispEdges">
<rect x="214" y="0" width="1" height="19" fill="#a0a0a0"/>
<rect x="215" y="0" width="1" height="19" fill="#ffffff"/>
<rect x="218" y="1" width="3" height="1" fill="#7a7a7a"/>
<rect x="218" y="3" width="3" height="1" fill="#7a7a7a"/>
<rect x="218" y="5" width="3" height="1" fill="#7a7a7a"/>
<rect x="218" y="7" width="3" height="1" fill="#7a7a7a"/>
<rect x="218" y="9" width="3" height="1" fill="#7a7a7a"/>
<rect x="218" y="11" width="3" height="1" fill="#7a7a7a"/>
<rect x="218" y="13" width="3" height="1" fill="#7a7a7a"/>
<rect x="218" y="15" width="3" height="1" fill="#7a7a7a"/>
</g>
<g fill="#505050" shape-rendering="crispEdges">
<rect x="232" y="2" width="1" height="13"/>
<rect x="230" y="12" width="13" height="1"/>
</g>
<polygon points="232.5,0.8 230.4,3.2 234.6,3.2" fill="#505050"/>
<polygon points="244.2,12.5 241.8,10.4 241.8,14.6" fill="#505050"/>
<g fill="none" stroke="#108010" stroke-width="1" shape-rendering="crispEdges"><path d="M238.5,2 V11 M236,9.5 H238.5 M238.5,3.5 H241"/></g>
<g shape-rendering="crispEdges">
<rect x="252" y="0" width="1" height="17" fill="#a0a0a0"/>
<rect x="253" y="0" width="1" height="17" fill="#ffffff"/>
<rect x="253" y="0" width="24" height="17" fill="url(#dith)"/>
<rect x="252" y="17" width="25" height="1" fill="#ffffff"/>
</g>
<g fill="#505050" shape-rendering="crispEdges">
<rect x="260" y="2" width="1" height="13"/>
<rect x="258" y="12" width="13" height="1"/>
</g>
<polygon points="260.5,0.8 258.4,3.2 262.6,3.2" fill="#505050"/>
<polygon points="272.2,12.5 269.8,10.4 269.8,14.6" fill="#505050"/>
<rect x="266" y="0" width="1" height="11" fill="#108010"/>
<rect x="264.5" y="1.5" width="4" height="7" fill="url(#gcand)" stroke="#0a780a" stroke-width="1"/>
<g fill="#505050" shape-rendering="crispEdges">
<rect x="288" y="2" width="1" height="13"/>
<rect x="286" y="12" width="13" height="1"/>
</g>
<polygon points="288.5,0.8 286.4,3.2 290.6,3.2" fill="#505050"/>
<polygon points="300.2,12.5 297.8,10.4 297.8,14.6" fill="#505050"/>
<path d="M287,9.6 C289.5,6.5 291.5,3.5 293.3,4.3 C295,5 296.5,8 298.6,8.4" fill="none" stroke="#30a030" stroke-width="1.1"/>
<g shape-rendering="crispEdges">
<rect x="309" y="0" width="1" height="17" fill="#a0a0a0"/>
<rect x="310" y="0" width="1" height="17" fill="#ffffff"/>
</g>
<line x1="328.0" y1="9" x2="333.5" y2="14" stroke="#b88a10" stroke-width="2.6"/>
<line x1="328.0" y1="9" x2="333.5" y2="14" stroke="#f0d860" stroke-width="1.2"/>
<circle cx="324.0" cy="4.9" r="5.3" fill="url(#lens)" stroke="#2d6fbf" stroke-width="1.1"/>
<rect x="320.5" y="4" width="7" height="2" fill="#4a88b0"/>
<rect x="323.0" y="1.5" width="2" height="7" fill="#4a88b0"/>
<line x1="356.0" y1="9" x2="361.5" y2="14" stroke="#b88a10" stroke-width="2.6"/>
<line x1="356.0" y1="9" x2="361.5" y2="14" stroke="#f0d860" stroke-width="1.2"/>
<circle cx="352.0" cy="4.9" r="5.3" fill="url(#lens)" stroke="#2d6fbf" stroke-width="1.1"/>
<rect x="348.5" y="4" width="7" height="2" fill="#4a88b0"/>
<rect x="374" y="0" width="7.6" height="7.4" rx="0.8" fill="#38a020"/>
<rect x="375.3" y="2.8" width="5" height="3.2" fill="#ffffff"/>
<rect x="376.3" y="3.5" width="3" height="0.8" fill="#38a020"/>
<rect x="382" y="0" width="7.6" height="7.4" rx="0.8" fill="#2050d0"/>
<rect x="383.3" y="2.8" width="5" height="3.2" fill="#ffffff"/>
<rect x="384.3" y="3.5" width="3" height="0.8" fill="#2050d0"/>
<rect x="374" y="7" width="7.6" height="7.4" rx="0.8" fill="#2050d0"/>
<rect x="375.3" y="9.8" width="5" height="3.2" fill="#ffffff"/>
<rect x="376.3" y="10.5" width="3" height="0.8" fill="#2050d0"/>
<rect x="382" y="7" width="7.6" height="7.4" rx="0.8" fill="#38a020"/>
<rect x="383.3" y="9.8" width="5" height="3.2" fill="#ffffff"/>
<rect x="384.3" y="10.5" width="3" height="0.8" fill="#38a020"/>
<g shape-rendering="crispEdges">
<rect x="399" y="0" width="1" height="19" fill="#a0a0a0"/>
<rect x="400" y="0" width="1" height="19" fill="#ffffff"/>
<rect x="404" y="0" width="1" height="17" fill="#a0a0a0"/>
<rect x="405" y="0" width="1" height="17" fill="#ffffff"/>
<rect x="405" y="0" width="24" height="17" fill="url(#dith)"/>
<rect x="404" y="17" width="25" height="1" fill="#ffffff"/>
</g>
<g fill="#505050" shape-rendering="crispEdges">
<rect x="412" y="2" width="1" height="13"/>
<rect x="410" y="12" width="13" height="1"/>
</g>
<polygon points="412.5,0.8 410.4,3.2 414.6,3.2" fill="#505050"/>
<polygon points="424.2,12.5 421.8,10.4 421.8,14.6" fill="#505050"/>
<polygon points="417,3 417,9.8 421.3,6.5" fill="#50e050" stroke="#109010" stroke-width="0.9"/>
<g shape-rendering="crispEdges">
<rect x="432" y="0" width="1" height="17" fill="#a0a0a0"/>
<rect x="433" y="0" width="1" height="17" fill="#ffffff"/>
<rect x="433" y="0" width="24" height="17" fill="url(#dith)"/>
<rect x="432" y="17" width="25" height="1" fill="#ffffff"/>
</g>
<g fill="#505050" shape-rendering="crispEdges">
<rect x="440" y="2" width="1" height="13"/>
<rect x="438" y="12" width="13" height="1"/>
</g>
<polygon points="440.5,0.8 438.4,3.2 442.6,3.2" fill="#505050"/>
<polygon points="452.2,12.5 449.8,10.4 449.8,14.6" fill="#505050"/>
<rect x="446" y="1" width="1" height="10" fill="#1070b0"/>
<polygon points="447.3,6.5 450,4.5 449.5,6 452,6 452,7 449.5,7 450,8.5" fill="#e05010"/>
<g shape-rendering="crispEdges">
<rect x="461" y="0" width="1" height="17" fill="#a0a0a0"/>
<rect x="462" y="0" width="1" height="17" fill="#ffffff"/>
</g>
<path d="M471.5,-1 V12 H483 V1 L481,-1 Z" fill="#ffffff" stroke="#8a8a8a" stroke-width="0.9"/>
<text x="474" y="9" font-family="Liberation Serif,serif" font-style="italic" font-size="9" fill="#404020">f</text>
<path d="M479.5,5.5 h3 v3.5 h3.8 v3 h-3.8 v4 h-3 v-4 h-3.8 v-3 h3.8 Z" fill="#30e030" stroke="#108010" stroke-width="0.8"/>
<polygon points="492.8,6 498.3,6 495.6,9" fill="#000"/>
<rect x="515.3" y="-1" width="3" height="2.2" fill="#1a70d0"/>
<circle cx="516.8" cy="7.2" r="6.9" fill="#1a6ed0"/>
<circle cx="516.8" cy="7.2" r="7.4" fill="none" stroke="#0a4aa0" stroke-width="0.6"/>
<circle cx="516.8" cy="7.2" r="5" fill="#f6f6f6"/>
<path d="M516.6,3.6 V7.4 H519.2" fill="none" stroke="#202020" stroke-width="1"/>
<g fill="#909090"><rect x="512.5" y="7" width="0.8" height="0.8"/><rect x="520.4" y="7" width="0.8" height="0.8"/><rect x="516.5" y="10.8" width="0.8" height="0.8" fill="#60a0e0"/><rect x="514" y="4.2" width="0.8" height="0.8"/><rect x="519.2" y="4.2" width="0.8" height="0.8"/><rect x="514" y="9.8" width="0.8" height="0.8"/><rect x="519.2" y="9.8" width="0.8" height="0.8"/></g>
<polygon points="531.8,6 537.3,6 534.5,9" fill="#000"/>
<rect x="548.6" y="-0.5" width="14.8" height="14" rx="1" fill="#3070c0"/>
<rect x="550" y="3" width="12" height="5" fill="#ffffff"/>
<rect x="550" y="9" width="12" height="3.8" fill="#ffffff"/>
<polyline points="550.5,6.6 552.5,6 554,5 555.5,5.5 557,5.5 559,4.8 561,4.5" fill="none" stroke="#a02808" stroke-width="1.3"/>
<polyline points="551,11.3 553.5,10.6 555.5,11.3 558.5,9.4 561.5,11.5" fill="none" stroke="#20a020" stroke-width="1.3"/>
<polygon points="570.9,6 576.4,6 573.6,9" fill="#000"/>
<g shape-rendering="crispEdges">
<rect x="582" y="0" width="1" height="19" fill="#a0a0a0"/>
<rect x="583" y="0" width="1" height="19" fill="#ffffff"/>
<rect x="586" y="1" width="3" height="1" fill="#7a7a7a"/>
<rect x="586" y="3" width="3" height="1" fill="#7a7a7a"/>
<rect x="586" y="5" width="3" height="1" fill="#7a7a7a"/>
<rect x="586" y="7" width="3" height="1" fill="#7a7a7a"/>
<rect x="586" y="9" width="3" height="1" fill="#7a7a7a"/>
<rect x="586" y="11" width="3" height="1" fill="#7a7a7a"/>
<rect x="586" y="13" width="3" height="1" fill="#7a7a7a"/>
<rect x="586" y="15" width="3" height="1" fill="#7a7a7a"/>
<rect x="592" y="0" width="1" height="17" fill="#a0a0a0"/>
<rect x="593" y="0" width="1" height="17" fill="#ffffff"/>
<rect x="593" y="0" width="24" height="17" fill="url(#dith)"/>
<rect x="592" y="17" width="25" height="1" fill="#ffffff"/>
</g>
<polygon points="600.2,0 600.2,10.8 602.8,8.4 604.9,13.6 606.3,12.9 604.4,7.7 607.9,7.5" fill="#505050"/>
<g fill="#404040" shape-rendering="crispEdges">
<rect x="632" y="0" width="1" height="6"/><rect x="632" y="9" width="1" height="6"/>
<rect x="625" y="7" width="6" height="1"/><rect x="634" y="7" width="6" height="1"/>
<rect x="649" y="0" width="1" height="17" fill="#a0a0a0"/>
<rect x="650" y="0" width="1" height="17" fill="#ffffff"/>
<rect x="666" y="1" width="1" height="13"/>
<rect x="689" y="7" width="12" height="1"/>
</g>
<line x1="717" y1="13.8" x2="729" y2="2" stroke="#404040" stroke-width="1"/>
<g stroke="#404040" stroke-width="0.9" fill="none"><line x1="743" y1="8.5" x2="751" y2="0.8"/><line x1="745.5" y1="13" x2="756.5" y2="5"/><line x1="748" y1="14" x2="756.5" y2="5.5"/><line x1="745.5" y1="7" x2="746.5" y2="13"/><line x1="748.5" y1="4.5" x2="749.5" y2="10.5"/><line x1="751.5" y1="2" x2="752.5" y2="8"/><line x1="754.5" y1="0" x2="755" y2="5"/></g>
<text x="753.6" y="16" font-family="Liberation Sans,sans-serif" font-weight="bold" font-size="6.5" fill="#404040">E</text>
<g fill="#404040" shape-rendering="crispEdges">
<rect x="772" y="0" width="1" height="1"/>
<rect x="774" y="0" width="1" height="1"/>
<rect x="776" y="0" width="1" height="1"/>
<rect x="778" y="0" width="1" height="1"/>
<rect x="780" y="0" width="1" height="1"/>
<rect x="782" y="0" width="1" height="1"/>
<rect x="784" y="0" width="1" height="1"/>
<rect x="772" y="3" width="1" height="1"/>
<rect x="774" y="3" width="1" height="1"/>
<rect x="776" y="3" width="1" height="1"/>
<rect x="778" y="3" width="1" height="1"/>
<rect x="780" y="3" width="1" height="1"/>
<rect x="782" y="3" width="1" height="1"/>
<rect x="784" y="3" width="1" height="1"/>
<rect x="772" y="7" width="1" height="1"/>
<rect x="774" y="7" width="1" height="1"/>
<rect x="776" y="7" width="1" height="1"/>
<rect x="778" y="7" width="1" height="1"/>
<rect x="780" y="7" width="1" height="1"/>
<rect x="782" y="7" width="1" height="1"/>
<rect x="784" y="7" width="1" height="1"/>
<rect x="772" y="11" width="1" height="1"/>
<rect x="774" y="11" width="1" height="1"/>
<rect x="776" y="11" width="1" height="1"/>
<rect x="778" y="11" width="1" height="1"/>
<rect x="780" y="11" width="1" height="1"/>
</g>
<text x="781.5" y="16" font-family="Liberation Sans,sans-serif" font-weight="bold" font-size="6.5" fill="#404040">F</text>
<text x="802.6" y="12" font-family="Liberation Sans,sans-serif" font-weight="bold" font-size="11.5" fill="#505050" textLength="8" lengthAdjust="spacingAndGlyphs">A</text>
<rect x="829.5" y="1.5" width="11" height="12" fill="none" stroke="#505050" stroke-width="1" stroke-dasharray="1,1"/>
<rect x="828" y="0" width="2" height="1.5" fill="#505050"/>
<text x="831.2" y="11.5" font-family="Liberation Sans,sans-serif" font-weight="bold" font-size="11" fill="#505050">T</text>
<polygon points="857,4.5 860,1 863,4.5" fill="#505050"/><polygon points="863.5,9.5 870,9.5 866.7,13.6" fill="#505050"/>
<polyline points="858.5,7 860.5,9.8 865.5,5" fill="none" stroke="#505050" stroke-width="1.2"/>
<polygon points="877.0,6 882.5,6 879.8,9" fill="#000"/>
<g shape-rendering="crispEdges">
<rect x="888" y="0" width="1" height="19" fill="#a0a0a0"/>
<rect x="889" y="0" width="1" height="19" fill="#ffffff"/>
<rect x="892" y="1" width="3" height="1" fill="#7a7a7a"/>
<rect x="892" y="3" width="3" height="1" fill="#7a7a7a"/>
<rect x="892" y="5" width="3" height="1" fill="#7a7a7a"/>
<rect x="892" y="7" width="3" height="1" fill="#7a7a7a"/>
<rect x="892" y="9" width="3" height="1" fill="#7a7a7a"/>
<rect x="892" y="11" width="3" height="1" fill="#7a7a7a"/>
<rect x="892" y="13" width="3" height="1" fill="#7a7a7a"/>
<rect x="892" y="15" width="3" height="1" fill="#7a7a7a"/>
</g>
<g shape-rendering="crispEdges">
<rect x="1038" y="0" width="1" height="17" fill="#a0a0a0"/>
<rect x="1039" y="0" width="1" height="17" fill="#ffffff"/>
<rect x="1039" y="0" width="25" height="17" fill="url(#dith)"/>
<rect x="1038" y="17" width="26" height="1" fill="#ffffff"/>
<rect x="1149" y="0" width="1" height="19" fill="#a0a0a0"/>
<rect x="1150" y="0" width="1" height="19" fill="#ffffff"/>
</g>
<text x="902.68" y="11" font-family='"Liberation Sans", sans-serif' font-size="10" fill="#303030" stroke="#303030" stroke-width="0.08" textLength="13.91" lengthAdjust="spacingAndGlyphs">M1</text>
<text x="930.78" y="11" font-family='"Liberation Sans", sans-serif' font-size="10" fill="#303030" stroke="#303030" stroke-width="0.08" textLength="13.84" lengthAdjust="spacingAndGlyphs">M5</text>
<text x="956.91" y="11" font-family='"Liberation Sans", sans-serif' font-size="10" fill="#303030" stroke="#303030" stroke-width="0.08" textLength="18.69" lengthAdjust="spacingAndGlyphs">M15</text>
<text x="985.02" y="11" font-family='"Liberation Sans", sans-serif' font-size="10" fill="#303030" stroke="#303030" stroke-width="0.08" textLength="18.56" lengthAdjust="spacingAndGlyphs">M30</text>
<text x="1016.00" y="11" font-family='"Liberation Sans", sans-serif' font-size="10" fill="#303030" stroke="#303030" stroke-width="0.08" textLength="12.48" lengthAdjust="spacingAndGlyphs">H1</text>
<text x="1042.86" y="11" font-family='"Liberation Sans", sans-serif' font-size="10" fill="#303030" stroke="#303030" stroke-width="0.08" textLength="13.14" lengthAdjust="spacingAndGlyphs">H4</text>
<text x="1072.00" y="11" font-family='"Liberation Sans", sans-serif' font-size="10" fill="#303030" stroke="#303030" stroke-width="0.08" textLength="12.48" lengthAdjust="spacingAndGlyphs">D1</text>
<text x="1099.76" y="11" font-family='"Liberation Sans", sans-serif' font-size="10" fill="#303030" stroke="#303030" stroke-width="0.08" textLength="14.93" lengthAdjust="spacingAndGlyphs">W1</text>
<text x="1125.83" y="11" font-family='"Liberation Sans", sans-serif' font-size="10" fill="#303030" stroke="#303030" stroke-width="0.08" textLength="16.54" lengthAdjust="spacingAndGlyphs">MN</text>
<line x1="1612.3" y1="12" x2="1616.5" y2="7.8" stroke="#2a5cc8" stroke-width="2.2"/>
<circle cx="1619.6" cy="4.6" r="3.6" fill="#f8f8ff" stroke="#2a64d0" stroke-width="1.3"/>
<path d="M1638,12.5 C1634,12.5 1634.5,5 1640,5 H1644 C1649,5 1649,12.5 1644,12.5 H1641 L1638.5,15.5 Z" fill="#e4e8f0" stroke="#a0a4a8" stroke-width="0.8"/>
<circle cx="1650.5" cy="4.8" r="8" fill="url(#redb)"/>
<text x="1647.6" y="9" font-family="Liberation Serif,serif" font-size="11" fill="#ffffff">1</text>
</svg></body></html>
